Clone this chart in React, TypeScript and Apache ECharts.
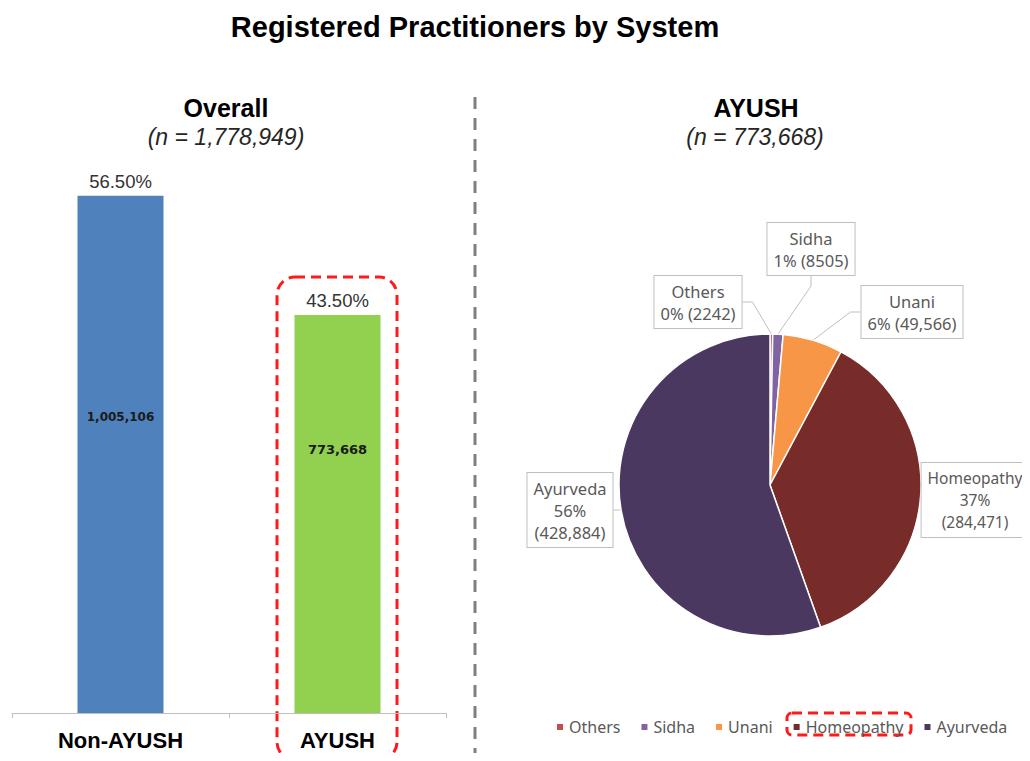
import React, { useEffect, useRef } from "react";
import * as echarts from "echarts";

const barCategories = ["Non-AYUSH", "AYUSH"];
const barCounts = [1005106, 773668];
const barCountTexts = ["1,005,106", "773,668"];
const barShares = ["56.50%", "43.50%"];
const barColors = ["#4f81bd", "#92d050"];

const pieNames = ["Others", "Sidha", "Unani", "Homeopathy", "Ayurveda"];
const pieValues = [2242, 8505, 49566, 284471, 428884];
const piePercents = ["0%", "1%", "6%", "37%", "56%"];
const pieValueTexts = ["2242", "8505", "49,566", "284,471", "428,884"];
const pieColors = ["#c0504d", "#8064a2", "#f79646", "#772c2a", "#4b3860"];

const labelCenters: [number, number][] = [
  [698, 302],
  [811, 249],
  [912, 312],
  [975, 500],
  [570, 510],
];
const labelSizes = [16.5, 16.5, 16.5, 15.5, 16.5];

export default function App() {
  const ref = useRef<HTMLDivElement>(null);
  useEffect(() => {
    if (!ref.current) return;
    const chart = echarts.init(ref.current, null, { renderer: "svg" });
    const arial = "Liberation Sans, Arial, sans-serif";
    const calibri = "Noto Sans, sans-serif";
    const insidePos = [["50%", "42.7%"], ["50%", "33.7%"]];
    const insideSize = [12, 13];
    chart.setOption({
      animation: false,
      backgroundColor: "#ffffff",
      title: [
        {
          text: "Registered Practitioners by System",
          left: 475,
          top: 12,
          textAlign: "center",
          padding: 0,
          textStyle: { fontSize: 29, fontWeight: "bold", color: "#000", fontFamily: arial },
        },
        {
          text: "Overall",
          left: 226,
          top: 95,
          textAlign: "center",
          padding: 0,
          textStyle: { fontSize: 25, fontWeight: "bold", color: "#000", fontFamily: arial },
        },
        {
          text: "(n = 1,778,949)",
          left: 226,
          top: 125,
          textAlign: "center",
          padding: 0,
          textStyle: { fontSize: 23, fontStyle: "italic", fontWeight: "normal", color: "#262626", fontFamily: arial },
        },
        {
          text: "AYUSH",
          left: 756,
          top: 95,
          textAlign: "center",
          padding: 0,
          textStyle: { fontSize: 25, fontWeight: "bold", color: "#000", fontFamily: arial },
        },
        {
          text: "(n = 773,668)",
          left: 755,
          top: 125,
          textAlign: "center",
          padding: 0,
          textStyle: { fontSize: 23, fontStyle: "italic", fontWeight: "normal", color: "#262626", fontFamily: arial },
        },
      ],
      grid: { left: 12, right: 584, top: 147, bottom: 48, containLabel: false },
      xAxis: {
        type: "category",
        data: barCategories,
        axisLine: { lineStyle: { color: "#bfbfbf", width: 1 } },
        axisTick: { show: true, length: 5, lineStyle: { color: "#bfbfbf" } },
        axisLabel: {
          margin: 16,
          fontSize: 22,
          fontWeight: "bold",
          color: "#000",
          fontFamily: arial,
        },
      },
      yAxis: {
        type: "value",
        min: 0,
        max: 1100000,
        show: false,
        splitLine: { show: false },
      },
      legend: {
        data: pieNames,
        left: 550,
        top: 714,
        icon: "rect",
        itemWidth: 8,
        itemHeight: 8,
        itemGap: 19,
        textStyle: { fontSize: 16, color: "#595959", fontFamily: calibri },
      },
      series: [
        {
          type: "bar",
          name: "count",
          barWidth: 86,
          data: barCounts.map((v, i) => ({
            value: v,
            itemStyle: { color: barColors[i] },
            label: {
              show: true,
              position: insidePos[i],
              align: "center",
              verticalAlign: "middle",
              formatter: barCountTexts[i],
              fontSize: insideSize[i],
              fontWeight: "bold",
              color: "#1a1a1a",
              fontFamily: "DejaVu Sans, sans-serif",
            },
          })),
        },
        {
          type: "bar",
          name: "share",
          barWidth: 86,
          barGap: "-100%",
          silent: true,
          itemStyle: { color: "rgba(0,0,0,0)" },
          data: barCounts.map((v, i) => ({
            value: v,
            label: {
              show: true,
              position: "top",
              distance: 5,
              formatter: barShares[i],
              fontSize: 18.5,
              color: "#333333",
              fontFamily: arial,
            },
          })),
        },
        {
          type: "pie",
          name: "AYUSH",
          center: [770, 485],
          radius: 151,
          startAngle: 90,
          clockwise: true,
          avoidLabelOverlap: false,
          itemStyle: { borderColor: "#ffffff", borderWidth: 1.5 },
          label: {
            show: true,
            formatter: (p: any) => {
              const i = p.dataIndex;
              if (i >= 3) return `${pieNames[i]}\n${piePercents[i]}\n(${pieValueTexts[i]})`;
              return `${pieNames[i]}\n${piePercents[i]} (${pieValueTexts[i]})`;
            },
            fontSize: 16.5,
            lineHeight: 22,
            color: "#595959",
            fontFamily: calibri,
            backgroundColor: "#ffffff",
            borderColor: "#bfbfbf",
            borderWidth: 1,
            padding: [4, 6],
            align: "center",
          },
          labelLine: { show: true, length: 10, length2: 10, lineStyle: { color: "#bfbfbf", width: 1 } },
          labelLayout: (params: any) => {
            const c = labelCenters[params.dataIndex];
            return { x: c[0], y: c[1], align: "center", verticalAlign: "middle" };
          },
          data: pieValues.map((v, i) => ({
            name: pieNames[i],
            value: v,
            itemStyle: { color: pieColors[i] },
            label: { fontSize: labelSizes[i] },
          })),
        },
      ],
      graphic: [
        {
          type: "line",
          shape: { x1: 475, y1: 97, x2: 475, y2: 761 },
          style: { stroke: "#7f7f7f", lineWidth: 3, lineDash: [12, 9] },
          silent: true,
        },
        {
          type: "rect",
          shape: { x: 277, y: 277, width: 120, height: 483, r: 18 },
          style: { fill: "none", stroke: "#ff1a1a", lineWidth: 3, lineDash: [10, 6] },
          silent: true,
        },
        {
          type: "rect",
          shape: { x: 787, y: 713, width: 124, height: 22, r: 5 },
          style: { fill: "none", stroke: "#ff1a1a", lineWidth: 3, lineDash: [10, 6] },
          silent: true,
        },
      ],
    });
    return () => chart.dispose();
  }, []);
  return <div ref={ref} style={{ width: 1030, height: 761, margin: -8 }} />;
}
